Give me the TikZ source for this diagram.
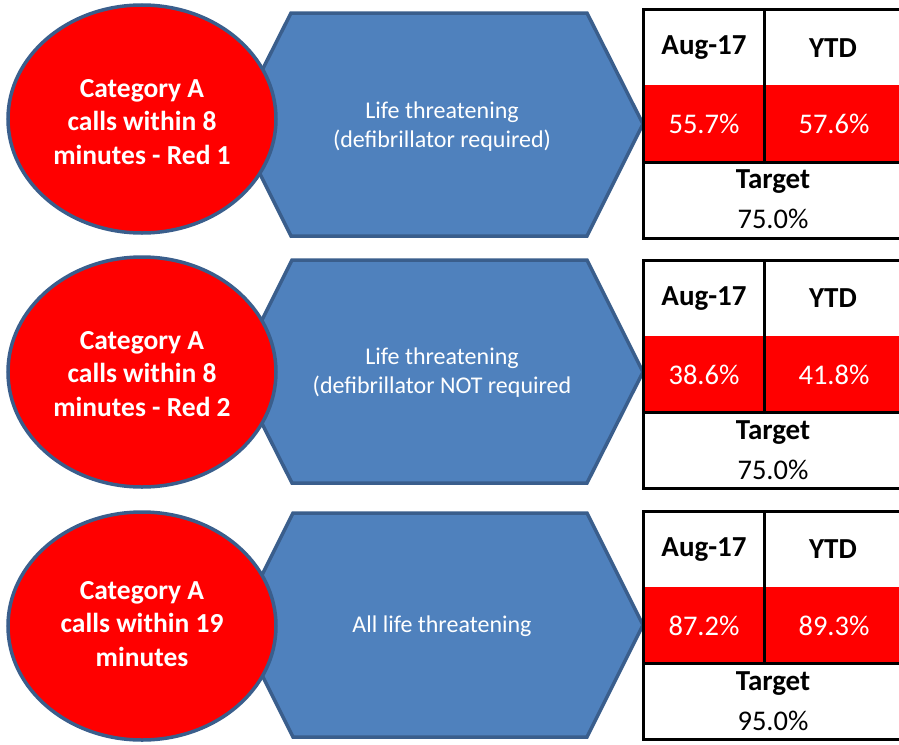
\documentclass[tikz,border=0pt]{standalone}
\usepackage{fontspec}
\setmainfont{Carlito}
\usetikzlibrary{shapes.geometric}
\definecolor{cred}{HTML}{FF0000}
\definecolor{cblue}{HTML}{4F81BD}
\definecolor{cedge}{HTML}{3A5E8C}
\begin{document}
\begin{tikzpicture}[x=1pt,y=-1pt,
  hexsty/.style={fill=cblue,draw=cedge,line width=3.5pt,line join=miter},
  ellsty/.style={ellipse,fill=cred,draw=cedge,line width=3.5pt,inner sep=0pt},
  elltext/.style={text=white,align=center,font=\fontsize{27.5}{33.5}\selectfont\bfseries},
  hextext/.style={text=white,align=center,font=\fontsize{24}{29}\selectfont},
  tline/.style={draw=black,line width=3pt},
  hdr/.style={font=\fontsize{29}{32}\selectfont\bfseries,text=black},
  val/.style={font=\fontsize{28.5}{32}\selectfont,text=white},
  tgt/.style={font=\fontsize{28.5}{32}\selectfont,text=black}]
\useasboundingbox (0,0) rectangle (899,744);
\clip (0,0) rectangle (899,744);
\fill[white] (0,0) rectangle (899,744);

% ---------- hexagons ----------
\draw[hexsty] (291,13) -- (587,13) -- (643,124) -- (587,236) -- (291,236) -- (235,124) -- cycle;
\draw[hexsty] (292,260) -- (587,260) -- (643,372) -- (587,483) -- (292,483) -- (236,372) -- cycle;
\draw[hexsty] (293,513) -- (587,513) -- (643,625) -- (587,737) -- (293,737) -- (237,625) -- cycle;
\node[hextext] (h1) at (442,127) {Life threatening\\(defibrillator required)};
\node[hextext] (h2) at (442,373) {Life threatening\\(defibrillator NOT required};
\node[hextext] (h3) at (442,626) {All life threatening};

% ---------- ellipses ----------
\node[ellsty,minimum width=268,minimum height=228] (e1) at (142,119) {};
\node[ellsty,minimum width=268,minimum height=230] (e2) at (142,372) {};
\node[ellsty,minimum width=268,minimum height=228] (e3) at (142,626) {};
\node[elltext] (t1) at (142,122) {Category A\\calls within 8\\minutes - Red 1};
\node[elltext] (t2) at (142,374) {Category A\\calls within 8\\minutes - Red 2};
\node[elltext] (t3) at (142,624) {Category A\\calls within 19\\minutes};

% ---------- tables ----------
\foreach \dy/\a/\b/\t [count=\i] in {0/55.7\%/57.6\%/75.0\%, 250.5/38.6\%/41.8\%/75.0\%, 501.5/87.2\%/89.3\%/95.0\%}{
  \begin{scope}[yshift=-\dy]
    \fill[cred] (643,85) rectangle (902,162);
    \draw[tline] (643,9.5) rectangle (902,238);
    \draw[tline] (643,162) -- (902,162);
    \draw[tline] (764,9.5) -- (764,162);
    \node[hdr] (ha\i) at (704,48) {Aug-17};
    \node[hdr] (hb\i) at (833,48) {YTD};
    \node[val] (va\i) at (704,124) {\a};
    \node[val] (vb\i) at (834,124) {\b};
    \node[hdr] (tg\i) at (773,182) {Target};
    \node[tgt] (tv\i) at (773,219) {\t};
  \end{scope}
}
\end{tikzpicture}
\end{document}
